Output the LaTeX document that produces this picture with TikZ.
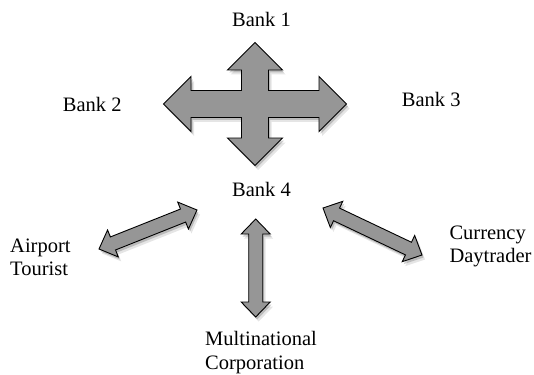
\documentclass[tikz,border=0pt]{standalone}
\usepackage{fontspec}
\setmainfont{Liberation Serif}
\usetikzlibrary{calc,shadows}
\definecolor{arrowgray}{RGB}{150,150,150}
\tikzset{
  blockarrow/.style={draw=black, line width=0.9pt, line join=miter, fill=arrowgray,
    general shadow={shadow xshift=1.5pt, shadow yshift=-2.5pt, fill=black, opacity=0.18},
    general shadow={shadow xshift=3pt, shadow yshift=-4.5pt, fill=black, opacity=0.10}},
  label/.style={inner sep=0pt, font=\fontsize{20.5}{23.5}\selectfont, align=left}
}
\newcommand{\dblarrowpath}[5]{% tipA, tipB, shaft half, head half, head length
  \path[blockarrow]
    let \p1=($(#1)!#5!(#2)$), \p2=($(#2)!#5!(#1)$) in
    (#1) -- ($(\p1)!#4!90:(#2)$) -- ($(\p1)!#3!90:(#2)$) -- ($(\p2)!#3!-90:(#1)$)
    -- ($(\p2)!#4!-90:(#1)$) -- (#2) -- ($(\p2)!#4!90:(#1)$) -- ($(\p2)!#3!90:(#1)$)
    -- ($(\p1)!#3!-90:(#2)$) -- ($(\p1)!#4!-90:(#2)$) -- cycle;}
\begin{document}
\begin{tikzpicture}[x=1pt,y=-1pt]
\useasboundingbox[fill=white] (0,0) rectangle (534,374);
% central cross
\path[blockarrow] (255,42.5) -- (282.5,70) -- (268.5,70) -- (268.5,90.5) -- (319,90.5)
  -- (319,76.5) -- (346.5,104) -- (319,131.5) -- (319,117.5) -- (268.5,117.5)
  -- (268.5,138) -- (282.5,138) -- (255,165.5) -- (227.5,138) -- (241.5,138)
  -- (241.5,117.5) -- (191,117.5) -- (191,131.5) -- (163.5,104) -- (191,76.5)
  -- (191,90.5) -- (241.5,90.5) -- (241.5,70) -- (227.5,70) -- cycle;
% small arrows
\coordinate (la) at (99,249);  \coordinate (lb) at (197,210);
\coordinate (va) at (255.7,219); \coordinate (vb) at (255.7,317);
\coordinate (ra) at (323,208); \coordinate (rb) at (422,255);
\dblarrowpath{la}{lb}{7pt}{14.5pt}{15pt}
\dblarrowpath{va}{vb}{7pt}{14.5pt}{15pt}
\dblarrowpath{ra}{rb}{7pt}{14.5pt}{15pt}
% labels (base anchor of a multi-line node = last line)
\node[label, anchor=base] (b1) at (261.5,27) {Bank 1};
\node[label, anchor=base east] (b2) at (121.7,111.5) {Bank 2};
\node[label, anchor=base west] (b3) at (401.7,106.5) {Bank 3};
\node[label, anchor=base] (b4) at (261.5,196.7) {Bank 4};
\node[label, anchor=base west] (at) at (10,275.5) {Airport\\Tourist};
\node[label, anchor=base west] (cd) at (449.3,262.5) {Currency\\Daytrader};
\node[label, anchor=base west] (mc) at (205,369.3) {Multinational\\Corporation};
\end{tikzpicture}
\end{document}
